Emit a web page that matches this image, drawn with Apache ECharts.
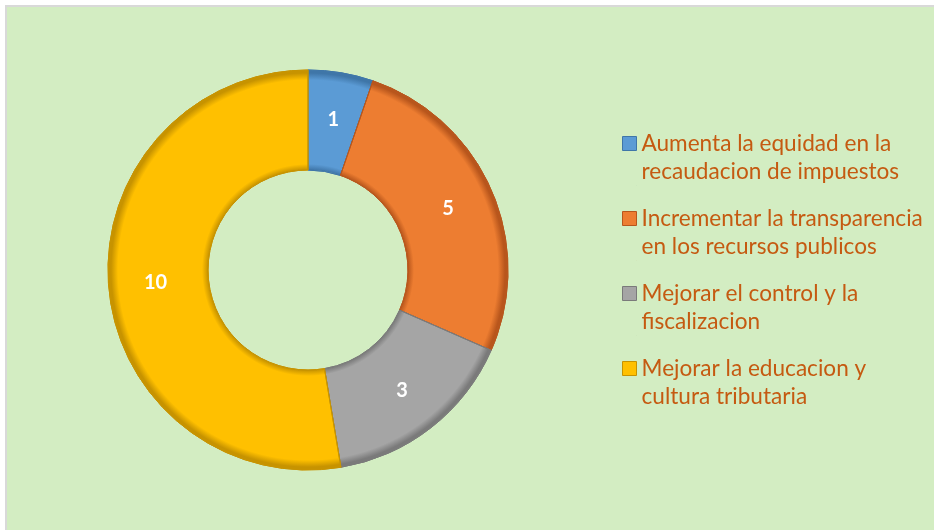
<!DOCTYPE html>
<html>
<head>
<meta charset="utf-8">
<script src="https://cdn.jsdelivr.net/npm/echarts@6/dist/echarts.min.js"></script>
<style>
html,body{margin:0;padding:0;background:#fff;width:934px;height:530px;overflow:hidden;}
#frame{position:absolute;left:5px;top:5px;width:927px;height:523px;border-top:2px solid #D9D9D9;border-left:2px solid #D9D9D9;background:#D3EDC2;}
#chart{position:absolute;left:0;top:0;width:934px;height:530px;}
</style>
</head>
<body>
<div id="frame"></div>
<div id="chart"></div>
<script>
const categories = [
  'Aumenta la equidad en la\nrecaudacion de impuestos',
  'Incrementar la transparencia\nen los recursos publicos',
  'Mejorar el control y la\nfiscalizacion',
  'Mejorar la educacion y\ncultura tributaria'
];
const values = [1, 5, 3, 10];
const colors = ['#5B9BD5', '#ED7D31', '#A5A5A5', '#FFC000'];
const edgeColors = ['#3F76A8', '#B8561C', '#7A7A7A', '#C79300'];

const cx = 308, cy = 270, rOut = 200, rIn = 100;

function ringGradient(base, edge) {
  return {
    type: 'radial', x: cx, y: cy, r: rOut, global: true,
    colorStops: [
      { offset: 0, color: edge },
      { offset: 0.5, color: edge },
      { offset: 0.53, color: base },
      { offset: 0.56, color: base },
      { offset: 0.95, color: base },
      { offset: 0.985, color: edge },
      { offset: 1, color: edge }
    ]
  };
}

const data = categories.map((c, i) => ({
  name: c,
  value: values[i],
  itemStyle: { color: ringGradient(colors[i], edgeColors[i]), borderColor: edgeColors[i], borderWidth: 1 }
}));

// legend icon: square aligned to first text line (tall box with tiny invisible anchors)
const iconPath = 'path://M0,7L14,7L14,21L0,21Z M0,0L0.01,0L0.01,0.01Z M13.99,55.99L14,55.99L14,56Z';

const chart = echarts.init(document.getElementById('chart'), null, { renderer: 'canvas' });
chart.setOption({
  backgroundColor: 'transparent',
  color: colors,
  legend: {
    orient: 'vertical',
    left: 622,
    top: 129,
    padding: 0,
    itemWidth: 14,
    itemHeight: 56,
    itemGap: 18,
    icon: iconPath,
    selectedMode: false,
    data: categories.map((c, i) => ({
      name: c,
      itemStyle: { color: colors[i], borderColor: edgeColors[i], borderWidth: 1 }
    })),
    textStyle: {
      color: '#C55A11',
      fontFamily: 'Lato, "Open Sans", sans-serif',
      fontSize: 22.6,
      lineHeight: 28
    }
  },
  series: [{
    type: 'pie',
    center: [cx, cy],
    radius: [rIn, rOut],
    startAngle: 90,
    clockwise: true,
    avoidLabelOverlap: false,
    label: {
      show: true,
      position: 'inside',
      formatter: '{c}',
      color: '#FFFFFF',
      fontWeight: 'bold',
      fontSize: 20,
      fontFamily: 'Lato, "Open Sans", sans-serif'
    },
    labelLine: { show: false },
    emphasis: { disabled: true },
    data: data
  }]
});
</script>
</body>
</html>
